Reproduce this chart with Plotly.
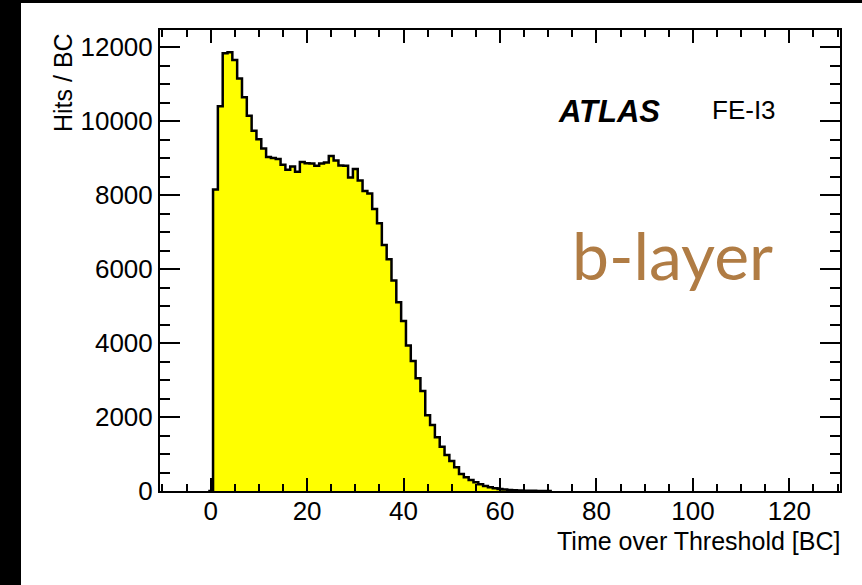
import plotly.graph_objects as go

# Time over Threshold bin centres (BC) and hits per BC
tot_bins = list(range(0, 71))
hits = [0,
        8150, 10400, 11830, 11860, 11650, 11150, 10640, 10140, 9740, 9510,
        9260, 9030, 9000, 8970, 8820, 8680, 8770, 8630, 8890, 8860,
        8850, 8790, 8850, 8880, 9055, 8930, 8800, 8790, 8470, 8700,
        8390, 8110, 8040, 7620, 7236, 6650, 6263, 5690, 5100, 4595,
        3930, 3514, 3046, 2700, 2050, 1784, 1451, 1198, 973, 811,
        640, 460, 370, 297, 235, 181, 135, 100, 73, 54,
        38, 27, 19, 13, 9, 6, 4, 3, 2, 1,
        0]

x_title = "Time over Threshold [BC]"
y_title = "Hits / BC"
x_range = [-10.5, 130.5]
y_range = [0, 12460]

# step outline: left bin edges with 'hv' shape, plus closing edge
edges = [c - 0.5 for c in tot_bins] + [tot_bins[-1] + 0.5]
vals = hits + [hits[-1]]

fig = go.Figure()
fig.add_trace(go.Scatter(
    x=edges, y=vals, mode="lines", line=dict(shape="hv", color="black", width=2.5),
    fill="tozeroy", fillcolor="#FFFF00", hoverinfo="skip", showlegend=False))

FONT = "Liberation Sans, Arial, Helvetica, sans-serif"

fig.update_layout(
    width=862, height=585,
    margin=dict(l=160, r=22, t=30, b=94),
    paper_bgcolor="white", plot_bgcolor="white",
    font=dict(family=FONT, size=25, color="black"),
    showlegend=False,
)
fig.update_xaxes(
    range=x_range, showgrid=False, zeroline=False,
    showline=True, linecolor="black", linewidth=2, mirror="ticks",
    ticks="inside", ticklen=13, tickwidth=1.5, tickcolor="black",
    tick0=0, dtick=20, tickformat="d", ticklabelstandoff=-4,
    tickfont=dict(family=FONT, size=26, color="black"),
    minor=dict(ticks="inside", tick0=0, dtick=5, ticklen=7, tickwidth=1.5, tickcolor="black"),
)
fig.update_yaxes(
    range=y_range, showgrid=False, zeroline=False,
    showline=True, linecolor="black", linewidth=2, mirror="ticks",
    ticks="inside", ticklen=20, tickwidth=1.5, tickcolor="black",
    tick0=0, dtick=2000, tickformat="d", tickfont=dict(family=FONT, size=26, color="black"),
    minor=dict(ticks="inside", tick0=0, dtick=500, ticklen=10, tickwidth=1.5, tickcolor="black"),
)

# black borders of the slide crop
fig.add_shape(type="rect", xref="paper", yref="paper",
              x0=-160/680, x1=-139/680, y0=-94/461, y1=(491)/461,
              fillcolor="black", line_width=0, layer="above")
fig.add_shape(type="rect", xref="paper", yref="paper",
              x0=-160/680, x1=702/680, y0=(491-3)/461, y1=491/461,
              fillcolor="black", line_width=0, layer="above")

fig.add_annotation(text=y_title, xref="paper", yref="paper",
                   x=(63.5-160)/680, y=(491-82.5)/461, textangle=-90,
                   xanchor="center", yanchor="middle", showarrow=False,
                   font=dict(family=FONT, size=25, color="black"))
fig.add_annotation(text=x_title, xref="paper", yref="paper",
                   x=(842-160)/680, y=(491-541)/461,
                   xanchor="right", yanchor="middle", showarrow=False,
                   font=dict(family=FONT, size=25, color="black"))
fig.add_annotation(text="<b><i>ATLAS</i></b>", xref="paper", yref="paper",
                   x=(609-160)/680, y=(491-111)/461,
                   xanchor="center", yanchor="middle", showarrow=False,
                   font=dict(family=FONT, size=31, color="black"))
fig.add_annotation(text="FE-I3", xref="paper", yref="paper",
                   x=(743.5-160)/680, y=(491-110)/461,
                   xanchor="center", yanchor="middle", showarrow=False,
                   font=dict(family=FONT, size=26, color="black"))
fig.add_annotation(text="b-layer", xref="paper", yref="paper",
                   x=(672.5-160)/680, y=(491-254)/461,
                   xanchor="center", yanchor="middle", showarrow=False,
                   font=dict(family="Lato, Open Sans, sans-serif", size=66, color="#B07C44"))

fig.write_html("out.html", config={"displayModeBar": False},
               post_script="document.body.style.margin='0';document.body.style.overflow='hidden';")
